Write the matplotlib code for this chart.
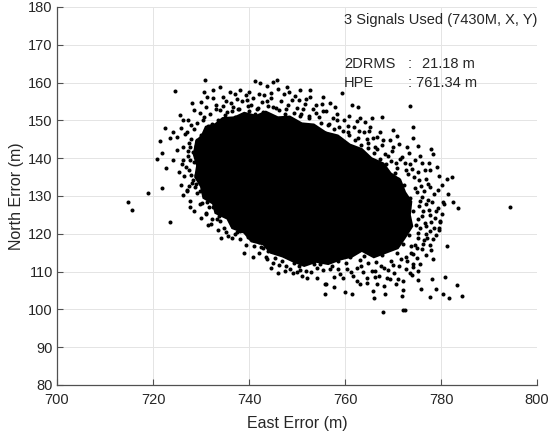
import matplotlib
matplotlib.use("Agg")
import matplotlib.pyplot as plt
import numpy as np

plt.rcParams['font.family'] = ['Liberation Sans', 'DejaVu Sans']

# outline of the solid black centre of the cloud (East, North)
core_outline = [
    (728.5, 141.0), (729.0, 144.5), (730.2, 146.0), (731.0, 148.3), (733.0, 149.0),
    (734.5, 150.6), (737.0, 150.8), (739.0, 152.0), (741.5, 151.2), (743.5, 152.3),
    (746.0, 150.8), (748.5, 151.0), (751.0, 149.2), (753.5, 148.9), (756.0, 146.8),
    (758.5, 146.0), (761.0, 143.6), (763.5, 142.4), (765.5, 140.0), (768.0, 138.6),
    (769.5, 136.0), (771.5, 134.3), (772.5, 131.0), (773.8, 128.5), (773.5, 125.0),
    (774.0, 122.0), (772.5, 119.0), (771.0, 116.2), (768.5, 115.0), (766.0, 113.8),
    (763.5, 115.5), (761.5, 114.0), (759.0, 113.2), (756.5, 112.0), (754.0, 112.6),
    (751.5, 111.5), (749.0, 112.8), (747.0, 114.0), (744.5, 115.0), (743.0, 117.2),
    (740.5, 118.0), (739.0, 120.3), (736.5, 121.5), (735.5, 124.0), (733.0, 125.5),
    (732.5, 128.0), (730.5, 129.5), (730.0, 132.5), (728.8, 135.0), (729.2, 138.0),
]

# dense band of fixes hugging the centre
edge_band = [
    (730.4, 150.2), (731.9, 151.6), (733.1, 152.9), (734.6, 153.8), (735.4, 152.1),
    (736.2, 154.6), (737.8, 153.0), (738.5, 155.0), (739.7, 153.9), (740.9, 155.8),
    (741.6, 153.1), (742.8, 154.9), (743.9, 153.8), (744.5, 156.0), (745.7, 153.2),
    (746.6, 155.1), (747.8, 152.9), (748.9, 155.4), (749.9, 153.3), (750.8, 151.8),
    (751.6, 154.4), (752.5, 151.2), (753.4, 152.9), (754.6, 150.8), (755.5, 152.4),
    (756.7, 149.0), (757.5, 150.7), (758.7, 148.3), (759.8, 150.0), (760.6, 146.9),
    (761.8, 148.3), (762.6, 145.4), (763.9, 146.8), (764.8, 143.9), (765.9, 145.4),
    (766.7, 142.4), (767.8, 143.5), (768.9, 140.5), (769.8, 141.9), (770.7, 138.6),
    (771.8, 140.3), (772.6, 136.8), (773.5, 138.4), (774.4, 134.9), (775.3, 136.4),
    (775.9, 132.7), (776.8, 134.5),
    (775.0, 131.0), (776.1, 129.6), (775.4, 127.4), (776.9, 127.8), (777.6, 125.0),
    (776.3, 125.9), (775.2, 123.8), (776.7, 122.9), (777.9, 123.1), (775.6, 121.5),
    (776.9, 120.0), (778.4, 118.7), (775.3, 118.9), (774.6, 117.0), (776.1, 116.1),
    (773.8, 114.9), (775.0, 113.5), (772.9, 112.9), (771.7, 113.4), (774.1, 111.2),
    (772.6, 110.6), (770.0, 111.8), (769.0, 110.4), (767.5, 111.6), (766.2, 110.1),
    (764.8, 112.4), (763.2, 113.0), (762.4, 111.0), (760.3, 112.2), (758.6, 110.7),
    (757.3, 111.5), (755.5, 110.4), (754.2, 110.9), (752.9, 109.9), (751.9, 110.1),
    (727.3, 141.9), (727.8, 139.6), (726.8, 137.6), (727.9, 135.5), (728.9, 133.1),
    (727.5, 132.6), (729.1, 130.7), (730.3, 128.2), (731.7, 127.2), (731.1, 125.3),
    (732.3, 124.0), (734.0, 123.4), (734.8, 121.4), (735.3, 120.6), (737.0, 119.9),
    (738.2, 118.6), (739.4, 117.0), (741.1, 116.7), (742.0, 114.8), (743.8, 113.3),
    (745.0, 112.2), (746.3, 111.7), (747.6, 110.2), (749.1, 109.5),
]

# second, looser ring of fixes around the band
outer_ring = [
    (777.3, 133.2), (778.1, 128.4), (778.9, 126.0), (779.3, 131.6), (776.5, 118.3),
    (777.8, 117.1), (776.9, 114.4), (775.7, 112.0), (773.9, 109.0), (771.0, 108.1),
    (770.6, 106.6), (768.2, 106.3), (766.3, 108.6), (763.7, 109.9), (761.3, 109.9),
    (759.0, 109.4), (757.8, 108.5), (754.1, 108.4), (778.6, 121.6), (779.0, 119.6),
    (780.2, 125.3), (781.4, 130.5), (780.1, 133.0), (779.5, 135.2), (777.4, 138.7),
    (775.6, 140.7), (773.3, 141.4), (771.2, 143.7), (769.3, 144.7), (767.3, 146.9),
    (765.0, 147.2), (762.5, 149.9), (760.9, 151.2), (758.0, 153.6), (755.2, 154.4),
    (752.8, 156.2), (750.5, 155.3), (748.4, 157.5), (746.0, 158.2), (743.1, 156.6),
    (740.1, 157.6), (737.0, 157.0), (734.6, 156.2), (732.5, 155.8), (730.6, 157.6),
    (728.6, 152.8), (727.2, 150.2), (725.0, 145.6), (724.9, 142.1), (725.5, 136.4),
    (725.9, 133.0), (726.2, 130.2), (728.6, 126.1), (730.0, 124.2), (733.5, 121.1),
    (734.2, 119.0), (739.0, 114.9), (740.8, 113.9), (744.6, 110.9), (746.0, 109.6),
]

# fixes just above the centre
top_fringe = [
    (731.5, 147.5), (732.2, 149.0), (733.5, 150.2), (734.1, 148.6), (735.0, 151.3),
    (735.8, 149.9), (736.4, 152.4), (737.1, 150.8), (737.9, 153.1), (738.6, 151.2),
    (739.3, 150.4), (739.9, 152.6), (740.5, 154.0), (741.2, 151.6), (741.8, 153.4),
    (742.4, 150.9), (743.0, 152.2), (743.7, 155.1), (744.3, 151.0), (744.9, 153.6),
    (745.6, 150.2), (746.2, 152.8), (746.9, 149.9), (747.5, 151.7), (748.1, 154.2),
    (748.8, 150.3), (749.4, 152.0), (750.0, 149.4), (750.7, 151.1), (751.3, 153.0),
    (751.9, 148.7), (752.6, 150.6), (753.2, 148.1), (753.9, 151.9), (754.5, 147.4),
    (755.1, 149.3), (755.8, 146.6), (756.4, 148.8), (757.0, 145.8), (757.7, 147.6),
    (758.3, 150.1), (758.9, 145.0), (759.6, 147.1), (760.2, 143.8), (760.9, 146.2),
    (761.5, 142.7), (762.1, 144.9), (762.8, 141.6), (763.4, 143.5), (764.1, 140.4),
    (764.7, 142.6), (765.3, 139.2), (766.0, 141.3), (766.6, 138.0), (767.2, 139.9),
    (767.9, 136.6), (768.5, 138.5), (769.2, 135.0), (769.8, 133.4), (770.5, 136.2),
    (768.3, 141.0), (766.2, 143.0), (764.6, 145.1), (762.9, 147.3), (760.7, 148.6),
    (758.4, 151.8), (756.1, 152.5), (754.0, 154.0), (751.8, 155.7), (749.6, 156.4),
    (747.2, 156.9), (744.6, 157.3), (742.0, 157.0), (739.4, 156.6), (737.5, 155.6),
    (735.2, 155.2), (733.2, 154.1), (731.1, 153.6), (729.9, 154.8),
]

# sparse fixes far above / to the upper right
upper_sparse = [
    (730.8, 160.6), (724.6, 157.7), (728.1, 154.5), (731.3, 156.1), (732.5, 158.0),
    (734.0, 158.8), (736.0, 157.5), (738.1, 158.0), (741.3, 160.4), (742.3, 159.8),
    (743.8, 159.0), (745.0, 160.1), (739.6, 155.3), (736.7, 153.5), (734.0, 152.7),
    (729.8, 151.9), (745.8, 160.6), (747.9, 158.8), (750.6, 158.0), (752.7, 158.0),
    (755.4, 156.1), (756.9, 154.5), (759.4, 157.2), (761.5, 154.0), (762.7, 153.5),
    (763.1, 150.6), (764.2, 149.5), (765.6, 150.6), (767.7, 150.8), (770.0, 147.4),
    (770.8, 145.8), (765.2, 148.2), (766.7, 145.5), (767.9, 144.7), (770.0, 142.9),
    (773.5, 153.7), (774.2, 148.2), (774.2, 145.3), (772.9, 142.9), (775.2, 143.1),
    (777.9, 142.3), (778.3, 141.0), (779.2, 137.6), (777.7, 136.8), (781.3, 134.6),
    (782.3, 134.9), (780.4, 128.3), (782.5, 128.5), (794.4, 127.2), (771.5, 139.9),
    (774.6, 139.4), (776.7, 136.8), (777.7, 132.5), (780.6, 128.0), (783.5, 126.7),
    (779.4, 126.7), (779.8, 123.2), (779.6, 121.1), (781.3, 116.9), (778.8, 124.3),
]

# fixes to the right of the centre
right_fringe = [
    (771.0, 134.5), (772.3, 132.8), (773.1, 135.7), (771.8, 130.6), (773.6, 129.4),
    (774.5, 132.0), (775.4, 134.1), (772.7, 127.2), (774.1, 126.0), (775.6, 128.7),
    (776.4, 131.3), (777.2, 129.0), (771.3, 124.9), (772.9, 123.1), (774.8, 122.4),
    (776.0, 124.6), (777.4, 126.2), (771.6, 121.0), (773.3, 119.6), (775.3, 120.3),
    (776.8, 122.0), (770.2, 118.5), (772.0, 117.2), (773.8, 116.7), (769.0, 116.0),
    (770.9, 114.8), (772.8, 113.9), (767.6, 114.3), (769.5, 112.7), (771.3, 111.5),
    (766.4, 112.6), (768.1, 110.9), (770.3, 109.6), (763.9, 114.1), (765.1, 115.8),
    (762.3, 116.2), (761.0, 113.8), (759.4, 115.4), (758.6, 112.9), (757.3, 113.6),
    (760.1, 117.6), (763.4, 111.6), (767.0, 108.9), (771.7, 129.0), (778.5, 130.4),
    (776.0, 138.6), (774.0, 137.2), (772.5, 138.8), (770.8, 137.5), (769.6, 139.2),
]

# fixes to the left of and below the centre
lower_fringe = [
    (728.5, 147.6), (729.2, 149.3), (730.1, 146.1), (730.6, 150.8), (731.4, 148.4),
    (732.6, 146.3), (728.0, 145.2), (729.0, 143.3), (727.4, 144.1), (726.6, 146.5),
    (727.9, 148.8), (725.8, 148.1), (726.3, 143.0), (728.4, 141.6), (727.2, 140.6),
    (726.0, 138.5), (728.6, 138.9), (727.5, 136.8), (729.0, 135.5), (726.4, 135.2),
    (728.2, 133.4), (730.3, 133.8), (729.7, 131.2), (731.4, 130.0), (733.1, 129.2),
    (732.4, 127.0), (734.5, 126.3), (735.8, 125.0), (733.8, 124.6), (736.9, 122.8),
    (738.6, 121.9), (737.6, 120.5), (739.8, 119.2), (741.0, 118.4), (742.6, 116.5),
    (744.0, 115.4), (743.5, 113.9), (745.4, 113.7), (746.8, 112.9), (747.7, 111.6),
    (749.3, 112.2), (750.4, 111.4), (748.5, 110.8), (750.0, 110.0), (750.6, 110.5),
    (751.0, 108.9), (752.1, 108.4), (753.5, 112.0), (754.8, 112.1), (756.0, 106.8),
    (757.7, 106.0), (756.9, 110.8), (759.6, 108.4), (760.4, 110.8), (761.7, 108.9),
    (762.5, 107.6), (763.1, 106.8), (764.6, 108.4), (766.7, 106.8), (765.6, 110.2),
]

# isolated fixes around the edge of the cloud
outliers = [
    (767.9, 99.4), (772.1, 99.9), (772.5, 99.9), (755.8, 106.8), (755.8, 104.1),
    (760.0, 104.7), (761.5, 104.1), (765.8, 104.9), (766.0, 103.1), (768.3, 104.1),
    (772.1, 105.2), (771.9, 103.6), (775.8, 105.5), (777.7, 103.3), (778.1, 108.1),
    (779.0, 105.5), (780.4, 104.1), (780.8, 108.6), (781.7, 103.1), (783.3, 106.5),
    (784.4, 103.6), (777.9, 115.8), (778.3, 113.2), (779.6, 121.4), (779.8, 123.5),
    (775.2, 107.9), (773.5, 109.7), (769.4, 108.1), (768.8, 108.3), (764.6, 107.1),
    (774.2, 112.1), (775.2, 110.2), (772.1, 107.6), (777.1, 119.0), (777.7, 120.8),
    (776.3, 117.4), (774.2, 114.7), (775.0, 116.3),
    (714.8, 128.3), (715.6, 126.4), (719.0, 130.7), (721.9, 132.0), (720.8, 139.7),
    (721.9, 141.5), (721.5, 144.5), (722.5, 147.9), (724.2, 146.8), (723.5, 145.3),
    (722.7, 137.3), (724.2, 139.4), (726.3, 139.4), (725.6, 151.4), (726.3, 150.0),
    (727.1, 146.8), (728.3, 134.1), (727.1, 131.5), (727.7, 128.8), (729.8, 128.0),
    (731.3, 130.7), (729.8, 137.6), (729.4, 142.1), (727.7, 142.9), (729.2, 144.7),
    (723.5, 123.2), (731.0, 125.6), (731.5, 122.4), (732.1, 122.7), (733.3, 123.8),
    (735.6, 119.5), (736.5, 119.0), (738.1, 120.8), (740.0, 119.5), (741.3, 120.6),
    (742.1, 117.9), (742.9, 116.3), (736.5, 122.2), (737.5, 123.5), (736.0, 124.8),
    (727.7, 127.0), (727.1, 131.2), (728.8, 132.3), (731.0, 130.1), (731.3, 128.5),
    (732.9, 127.7), (734.0, 129.6),
]

title_text = '3 Signals Used (7430M, X, Y)'
drms_value = 21.18
hpe_value = 761.34

fig = plt.figure(figsize=(5.48, 4.36), dpi=100)
ax = fig.add_axes([0.104, 0.117, 0.876, 0.867])

core = np.array(core_outline)
ax.fill(core[:, 0], core[:, 1], color='black', lw=1.5, zorder=3)

pts = np.array(edge_band + outer_ring + top_fringe + upper_sparse
               + right_fringe + lower_fringe + outliers)
ax.plot(pts[:, 0], pts[:, 1], 'o', color='black', ms=2.9, mec='none', zorder=3)

ax.set_xlim(700, 800)
ax.set_ylim(80, 180)
ax.set_xticks(np.arange(700, 801, 20))
ax.set_yticks(np.arange(80, 181, 10))
ax.grid(True, color='#e4e4e4', lw=0.7)
ax.set_axisbelow(True)

for side in ['top', 'right']:
    ax.spines[side].set_visible(False)
for side in ['left', 'bottom']:
    ax.spines[side].set_color('#505050')
    ax.spines[side].set_linewidth(0.9)
ax.tick_params(direction='in', length=4, color='#505050', labelcolor='#262626',
               labelsize=10.5)
ax.tick_params(axis='x', pad=6)
ax.tick_params(axis='y', pad=3)

ax.set_xlabel('East Error (m)', fontsize=11.5, color='#262626', labelpad=6)
ax.set_ylabel('North Error (m)', fontsize=11.5, color='#262626', labelpad=3)

txt = dict(fontsize=10.5, color='#262626', va='center', ha='left')
ax.text(759.8, 176.6, title_text, **txt)
ax.text(759.8, 164.9, '2DRMS', **txt)
ax.text(773.1, 164.9, ':', **txt)
ax.text(776.0, 164.9, '%.2f m' % drms_value, **txt)
ax.text(759.8, 159.9, 'HPE', **txt)
ax.text(773.1, 159.9, ': %.2f m' % hpe_value, **txt)

fig.savefig('out.png', dpi=100)
